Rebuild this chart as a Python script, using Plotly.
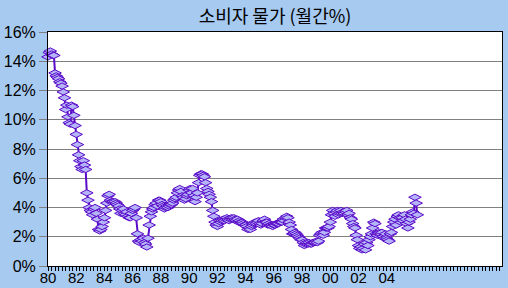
import plotly.graph_objects as go

# Monthly CPI (% change y/y), Jan 1980 onward
cpi_1980 = [14.3, 14.6, 14.7, 14.5, 14.4, 14.4, 13.2, 13.0, 12.9, 12.8, 12.6, 12.5]
cpi_1981 = [12.3, 11.9, 11.5, 10.7, 11.0, 10.2, 9.8, 9.7, 11.0, 10.9, 10.3, 9.6]
cpi_1982 = [9.0, 8.3, 7.6, 7.2, 6.8, 6.6, 7.2, 6.9, 6.6, 5.0, 4.5, 4.0]
cpi_1983 = [3.8, 3.7, 3.5, 3.9, 4.0, 3.6, 3.2, 2.5, 2.4, 2.5, 2.7, 3.0]
cpi_1984 = [3.3, 3.8, 4.3, 4.8, 4.9, 4.5, 4.4, 4.4, 4.3, 4.4, 4.3, 4.2]
cpi_1985 = [4.1, 3.9, 3.6, 3.8, 3.9, 3.6, 3.5, 3.7, 3.4, 3.3, 3.3, 3.6]
cpi_1986 = [3.8, 3.9, 4.0, 3.3, 2.2, 1.7, 1.6, 1.8, 1.7, 1.9, 1.6, 1.5]
cpi_1987 = [1.3, 1.9, 2.8, 3.4, 3.7, 3.9, 4.0, 4.2, 4.3, 4.1, 4.5, 4.5]
cpi_1988 = [4.4, 4.2, 4.1, 3.9, 4.0, 4.1, 4.0, 4.1, 4.2, 4.2, 4.3, 4.5]
cpi_1989 = [4.6, 4.7, 5.0, 5.2, 5.3, 5.1, 4.8, 4.7, 4.5, 4.6, 4.8, 4.9]
cpi_1990 = [5.2, 5.3, 5.0, 5.3, 4.8, 4.4, 4.7, 5.0, 5.7, 6.2, 6.3, 6.3]
cpi_1991 = [6.2, 6.1, 5.7, 5.3, 5.1, 4.9, 4.7, 4.4, 3.8, 3.4, 3.0, 2.8]
cpi_1992 = [2.7, 2.9, 3.1, 3.0, 3.1, 3.2, 3.1, 3.2, 3.3, 3.2, 3.1, 3.2]
cpi_1993 = [3.3, 3.2, 3.3, 3.2, 3.1, 3.2, 3.0, 3.1, 3.0, 3.0, 2.9, 2.8]
cpi_1994 = [2.8, 2.7, 2.5, 2.6, 2.5, 2.7, 2.8, 2.9, 3.0, 2.9, 3.0, 3.1]
cpi_1995 = [2.9, 2.8, 2.9, 3.1, 3.2, 3.0, 3.0, 2.8, 2.9, 2.8, 2.8, 2.7]
cpi_1996 = [2.8, 2.8, 2.9, 2.9, 2.9, 3.0, 3.0, 3.0, 3.2, 3.1, 3.3, 3.4]
cpi_1997 = [3.3, 3.0, 2.8, 2.5, 2.2, 2.2, 2.3, 2.2, 2.1, 2.0, 1.9, 1.8]
cpi_1998 = [1.8, 1.6, 1.4, 1.5, 1.6, 1.5, 1.6, 1.5, 1.5, 1.6, 1.6, 1.6]
cpi_1999 = [1.7, 1.6, 1.7, 2.1, 2.2, 2.3, 2.1, 2.3, 2.6, 2.6, 2.6, 2.7]
cpi_2000 = [3.0, 3.5, 3.8, 3.6, 3.4, 3.7, 3.8, 3.5, 3.6, 3.8, 3.6, 3.7]
cpi_2001 = [3.6, 3.7, 3.8, 3.5, 3.6, 3.3, 3.2, 2.9, 2.7, 2.6, 2.1, 1.8]
cpi_2002 = [1.4, 1.2, 1.3, 1.1, 1.2, 1.5, 1.1, 1.6, 1.4, 1.8, 2.0, 2.2]
cpi_2003 = [2.6, 3.0, 2.9, 2.2, 2.1, 2.2, 2.3, 2.2, 2.3, 2.0, 1.9, 2.2]
cpi_2004 = [1.9, 1.8, 1.7, 2.2, 2.3, 2.7, 3.0, 3.2, 2.8, 3.4, 3.5, 3.3]
cpi_2005 = [3.0, 3.3, 3.1, 3.5, 3.2, 2.9, 2.6, 3.0, 3.2, 3.5, 3.7, 3.6]
cpi_2006 = [4.7, 4.3, 3.5]

years = [cpi_1980, cpi_1981, cpi_1982, cpi_1983, cpi_1984, cpi_1985, cpi_1986,
         cpi_1987, cpi_1988, cpi_1989, cpi_1990, cpi_1991, cpi_1992, cpi_1993,
         cpi_1994, cpi_1995, cpi_1996, cpi_1997, cpi_1998, cpi_1999, cpi_2000,
         cpi_2001, cpi_2002, cpi_2003, cpi_2004, cpi_2005, cpi_2006]
values = [v for yr in years for v in yr]
month_idx = list(range(len(values)))

tick_labels = ["80", "82", "84", "86", "88", "90", "92", "94", "96", "98", "00", "02", "04"]
tick_pos = [24 * i for i in range(len(tick_labels))]
y_ticks = [0, 2, 4, 6, 8, 10, 12, 14, 16]
y_labels = [f"{v}%" for v in y_ticks]
title_text = "소비자 물가 (월간%)"

fig = go.Figure()
fig.add_trace(go.Scatter(
    x=month_idx, y=values, mode="lines+markers",
    line=dict(color="#5a0ac8", width=2),
    marker=dict(symbol="diamond-wide", size=9, color="#b4b4f8",
                line=dict(color="#5a0ac8", width=1)),
    showlegend=False, cliponaxis=False,
))

fig.update_layout(
    width=508, height=288,
    margin=dict(l=48, r=6, t=32, b=22, autoexpand=False),
    paper_bgcolor="#a6caf0",
    plot_bgcolor="#ffffff",
    font=dict(family="Liberation Sans, Arial, sans-serif", color="#000000"),
    title=dict(text=title_text, x=275 / 508, xref="container", xanchor="center",
               y=1 - 17 / 288, yref="container", yanchor="middle",
               font=dict(family="Noto Sans CJK KR", size=18, color="#000000")),
)
fig.update_xaxes(
    range=[0, 386], tickmode="array", tickvals=tick_pos, ticktext=tick_labels,
    showgrid=False, zeroline=False, automargin=False,
    showline=True, linecolor="#000000", linewidth=1, mirror=True,
    ticks="outside", ticklen=4, tickcolor="#000000", tickwidth=1,
    tickfont=dict(size=15), ticklabelstandoff=-6,
    minor=dict(dtick=3, tick0=0, ticks="outside", ticklen=4, tickcolor="#000000", showgrid=False),
)
fig.update_yaxes(
    range=[0, 16], tickmode="array", tickvals=y_ticks, ticktext=y_labels,
    showgrid=True, gridcolor="#808080", gridwidth=1, zeroline=False, automargin=False,
    showline=True, linecolor="#000000", linewidth=1, mirror=True,
    ticks="outside", ticklen=8, tickcolor="#808080",
    tickfont=dict(size=16),
)

fig.write_html("out.html")
